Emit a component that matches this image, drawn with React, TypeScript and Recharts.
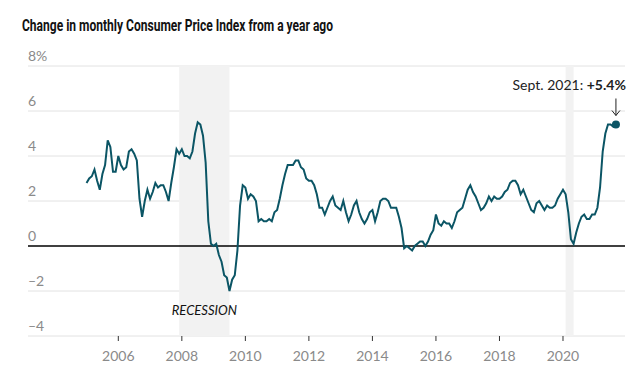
import { CartesianGrid, Line, LineChart, ReferenceArea, ReferenceDot, ReferenceLine, XAxis, YAxis } from "recharts";

// Year-over-year change in CPI, monthly, Jan 2005 - Sep 2021
const firstYear = 2005;
const cpiChange = [
  2.8, 3.0, 3.1, 3.4, 2.9, 2.5, 3.2, 3.6, 4.7, 4.4, 3.3, 3.3, // 2005
  4.0, 3.6, 3.4, 3.5, 4.2, 4.3, 4.1, 3.8, 2.1, 1.3, 2.0, 2.5, // 2006
  2.1, 2.4, 2.8, 2.6, 2.7, 2.7, 2.4, 2.0, 2.8, 3.5, 4.3, 4.1, // 2007
  4.3, 4.0, 4.0, 3.9, 4.2, 5.0, 5.5, 5.4, 4.9, 3.7, 1.1, 0.1, // 2008
  0.0, 0.1, -0.4, -0.7, -1.3, -1.4, -2.0, -1.5, -1.3, -0.2, 1.8, 2.7, // 2009
  2.6, 2.1, 2.3, 2.2, 2.0, 1.1, 1.2, 1.1, 1.1, 1.2, 1.1, 1.5, // 2010
  1.6, 2.1, 2.7, 3.2, 3.6, 3.6, 3.6, 3.8, 3.8, 3.5, 3.4, 3.0, // 2011
  2.9, 2.9, 2.7, 2.3, 1.7, 1.7, 1.4, 1.7, 2.0, 2.2, 1.8, 1.7, // 2012
  1.6, 2.0, 1.5, 1.1, 1.4, 1.8, 2.0, 1.5, 1.2, 1.0, 1.2, 1.5, // 2013
  1.6, 1.1, 1.5, 2.0, 2.1, 2.1, 2.0, 1.7, 1.7, 1.7, 1.3, 0.8, // 2014
  -0.1, 0.0, -0.1, -0.2, 0.0, 0.1, 0.2, 0.2, 0.0, 0.2, 0.5, 0.7, // 2015
  1.4, 1.0, 0.9, 1.1, 1.0, 1.0, 0.8, 1.1, 1.5, 1.6, 1.7, 2.1, // 2016
  2.5, 2.7, 2.4, 2.2, 1.9, 1.6, 1.7, 1.9, 2.2, 2.0, 2.2, 2.1, // 2017
  2.1, 2.2, 2.4, 2.5, 2.8, 2.9, 2.9, 2.7, 2.3, 2.5, 2.2, 1.9, // 2018
  1.6, 1.5, 1.9, 2.0, 1.8, 1.6, 1.8, 1.7, 1.7, 1.8, 2.1, 2.3, // 2019
  2.5, 2.3, 1.5, 0.3, 0.1, 0.6, 1.0, 1.3, 1.4, 1.2, 1.2, 1.4, // 2020
  1.4, 1.7, 2.6, 4.2, 5.0, 5.4, 5.4, 5.3, 5.4, // 2021
];

const yTicks = [-4, -2, 0, 2, 4, 6, 8];
const gridValues = [-4, -2, 2, 4, 6, 8];
const xTicks = [2006, 2008, 2010, 2012, 2014, 2016, 2018, 2020];
const recessionStarts = [2007 + 11 / 12, 2020 + 1 / 12];
const recessionEnds = [2009 + 6 / 12, 2020 + 4 / 12];
const recessionLabels = ["RECESSION", ""];
const latestLabel = "Sept. 2021: ";
const title = "Change in monthly Consumer Price Index from a year ago";

const data = cpiChange.map((v, i) => ({ t: firstYear + i / 12, v }));
const last = data[data.length - 1];

const lineColor = "#0b5565";
const font = "Lato, 'Noto Sans', sans-serif";

function YTick({ y, payload }: any) {
  const v = payload.value as number;
  const txt = v === 8 ? "8%" : v < 0 ? `–${Math.abs(v)}` : `${v}`;
  return (
    <text x={28} y={y - 5} fill="#8a8a8a" fontSize={14} fontFamily={font}>
      {txt}
    </text>
  );
}

function RecessionLabel({ viewBox, value }: any) {
  if (!value) return null;
  return (
    <text
      x={viewBox.x + viewBox.width / 2}
      y={viewBox.y + viewBox.height - 21}
      textAnchor="middle"
      fontSize={13}
      fontStyle="italic"
      fill="#111"
      fontFamily={font}
    >
      {value}
    </text>
  );
}

function LatestDot({ cx, cy }: any) {
  return (
    <g>
      <circle cx={cx} cy={cy} r={4} fill={lineColor} />
      <line x1={cx} x2={cx} y1={cy - 26} y2={cy - 9} stroke="#222" strokeWidth={1} />
      <polyline points={`${cx - 4},${cy - 14} ${cx},${cy - 9} ${cx + 4},${cy - 14}`} fill="none" stroke="#222" strokeWidth={1} />
      <text x={cx + 10} y={cy - 35} textAnchor="end" fontSize={14} fill="#222" fontFamily={font}>
        {latestLabel}
        <tspan fontWeight="bold">+{last.v}%</tspan>
      </text>
    </g>
  );
}

export default function App() {
  return (
    <div style={{ position: "absolute", left: 0, top: 0, width: 634, height: 383, background: "#fff" }}>
      <svg width={634} height={40} style={{ position: "absolute", left: 0, top: 0 }}>
        <text
          x={22}
          y={31}
          textLength={311}
          lengthAdjust="spacingAndGlyphs"
          fontFamily="Roboto, sans-serif"
          fontWeight="bold"
          fontSize={16}
          fill="#121212"
        >
          {title}
        </text>
      </svg>
      <LineChart width={634} height={383} data={data} margin={{ top: 66, right: 9, left: 0, bottom: 17 }}>
        <CartesianGrid vertical={false} stroke="#e2e2e2" horizontalValues={gridValues} />
        {recessionStarts.map((s, i) => (
          <ReferenceArea
            key={s}
            x1={s}
            x2={recessionEnds[i]}
            fill="#f2f2f2"
            fillOpacity={1}
            label={<RecessionLabel value={recessionLabels[i]} />}
          />
        ))}
        <XAxis
          type="number"
          dataKey="t"
          domain={[2003.157, 2021.952]}
          ticks={xTicks}
          height={30}
          axisLine={false}
          tickLine={{ stroke: "#333" }}
          tickSize={5}
          tickMargin={10}
          tick={{ fill: "#8a8a8a", fontSize: 14, fontFamily: font }}
          allowDataOverflow
        />
        <YAxis
          width={28}
          domain={[-4, 8]}
          ticks={yTicks}
          interval={0}
          axisLine={false}
          tickLine={false}
          tick={<YTick />}
        />
        <ReferenceLine y={0} stroke="#000" strokeOpacity={1} strokeWidth={1.5} />
        <Line type="linear" dataKey="v" stroke={lineColor} strokeWidth={2} dot={false} isAnimationActive={false} />
        <ReferenceDot x={last.t} y={last.v} r={4} shape={<LatestDot />} />
      </LineChart>
    </div>
  );
}
